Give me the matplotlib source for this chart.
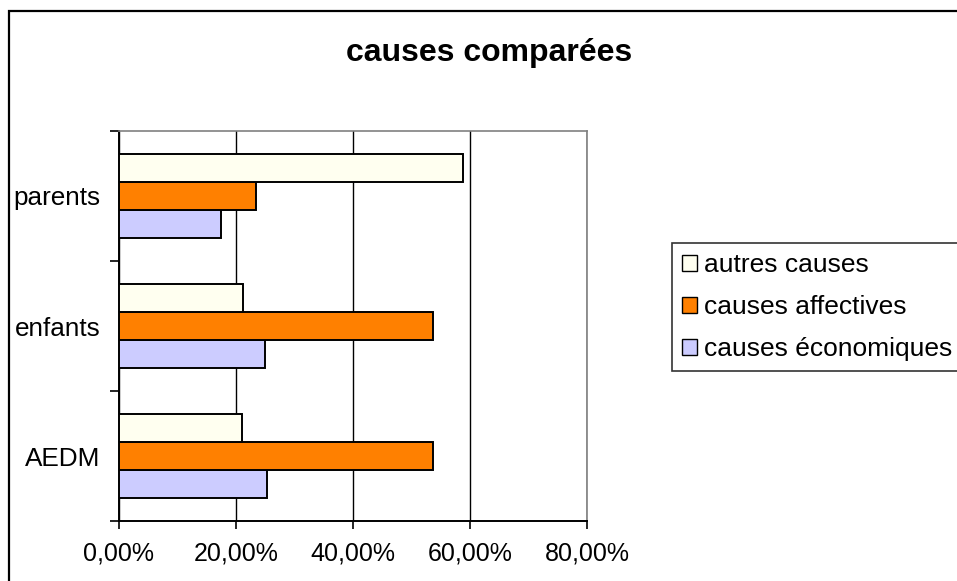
import numpy as np
import matplotlib.pyplot as plt
from matplotlib.patches import Patch, Rectangle
from matplotlib.ticker import FuncFormatter

plt.rcParams['font.family'] = ['Liberation Sans', 'DejaVu Sans']

categories = ['AEDM', 'enfants', 'parents']
series = ['causes économiques', 'causes affectives', 'autres causes']
economiques = [25.3, 25.0, 17.4]
affectives = [53.7, 53.7, 23.5]
autres = [21.0, 21.2, 58.8]
colors = ['#CCCCFF', '#FF8000', '#FFFFF0']

W, H = 957, 581
fig = plt.figure(figsize=(W / 100, H / 100), dpi=100)
ax = fig.add_axes([119 / W, (H - 521) / H, 468 / W, 390 / H])

y = np.arange(len(categories)) + 0.5
h = 0.217
vals = [economiques, affectives, autres]
for k, (v, c) in enumerate(zip(vals, colors)):
    ax.barh(y + (k - 1) * h, v, height=h, color=c, edgecolor='black',
            linewidth=1.4, zorder=3)

ax.set_xlim(0, 80)
ax.set_ylim(0, 3)
ax.set_xticks([0, 20, 40, 60, 80])
ax.xaxis.set_major_formatter(FuncFormatter(lambda v, p: ('%.2f%%' % v).replace('.', ',')))
ax.set_yticks(y)
ax.set_yticklabels(categories)
ax.set_yticks([0, 1, 2, 3], minor=True)
ax.tick_params(axis='y', which='major', length=0, pad=13.5, labelsize=18.8)
ax.tick_params(axis='y', which='minor', length=6.5, width=1.2, direction='out')
ax.tick_params(axis='x', length=6, width=1.2, direction='out', pad=8.5, labelsize=18)
ax.grid(axis='x', color='black', linewidth=1, zorder=0)

for s in ['top', 'right']:
    ax.spines[s].set_color('#808080')
    ax.spines[s].set_linewidth(1.2)
for s in ['left', 'bottom']:
    ax.spines[s].set_color('black')
    ax.spines[s].set_linewidth(1.4)

fig.text(489 / W, 1 - 53 / H, 'causes comparées', ha='center', va='center',
         fontsize=23, fontweight='bold')

handles = [Patch(facecolor=c, edgecolor='black', linewidth=1) for c in colors[::-1]]
leg = fig.legend(handles, series[::-1], loc='upper left',
                 bbox_to_anchor=(672 / W, 1 - 243 / H), fontsize=19,
                 frameon=True, fancybox=False, handlelength=0.55, handleheight=0.55,
                 handletextpad=0.3, labelspacing=0.68, borderpad=0.38,
                 borderaxespad=0)
leg.get_frame().set_edgecolor('black')
leg.get_frame().set_linewidth(1.2)

fig.patches.append(Rectangle((9 / W, -0.1), 1.2, 1.1 - 11 / H, transform=fig.transFigure,
                             fill=False, edgecolor='black', linewidth=1.6))

fig.savefig('out.png', dpi=100)
